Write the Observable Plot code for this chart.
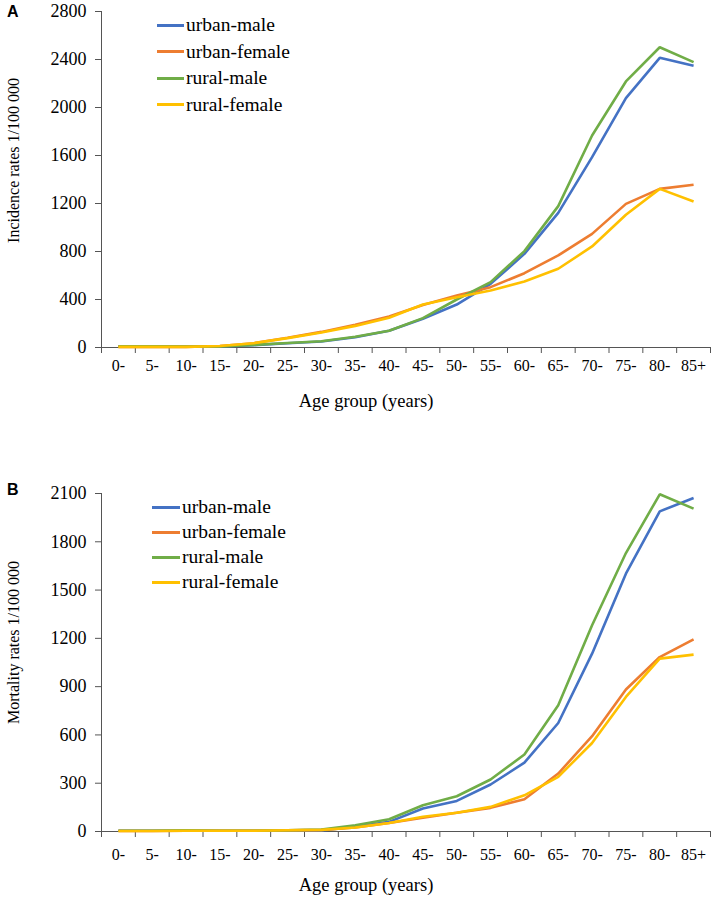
<!DOCTYPE html>
<html>
<head>
<meta charset="utf-8">
<script src="https://cdn.jsdelivr.net/npm/d3@7"></script>
<script src="https://cdn.jsdelivr.net/npm/@observablehq/plot@0.6"></script>
<style>
  html, body { margin: 0; padding: 0; background: #fff; }
  #wrap { position: relative; width: 714px; height: 898px; font-family: "Liberation Serif", "Times New Roman", serif; }
  .panel { position: absolute; left: 0; width: 714px; }
  .panel svg, .panel svg text { font-family: "Liberation Serif", "Times New Roman", serif !important; }
  .letter { position: absolute; font-family: "Liberation Sans", Arial, sans-serif; font-weight: bold; font-size: 16px; line-height: 16px; }
  .legrow { position: absolute; left: 0; display: flex; align-items: center; white-space: nowrap; font-size: 19.5px; line-height: 20px; }
  .sw { width: 27px; height: 3px; margin-right: 2px; }
</style>
</head>
<body>
<div id="wrap"></div>
<script>
const ageGroups = ["0-","5-","10-","15-","20-","25-","30-","35-","40-","45-","50-","55-","60-","65-","70-","75-","80-","85+"];
const seriesNames = ["urban-male","urban-female","rural-male","rural-female"];
const seriesColors = ["#4472C4","#ED7D31","#70AD47","#FFC000"];

// Panel A: incidence rates 1/100 000
const incUrbanMale   = [10,10,8,8,20,35,50,85,140,240,358,530,780,1122,1586,2078,2414,2347];
const incUrbanFemale = [5,5,5,12,36,81,130,190,258,355,433,503,619,767,947,1197,1322,1356];
const incRuralMale   = [10,10,8,8,22,38,52,90,140,245,400,545,803,1178,1767,2217,2502,2378];
const incRuralFemale = [5,5,5,12,36,78,125,180,248,358,419,475,550,656,842,1106,1322,1217];

// Panel B: mortality rates 1/100 000
const morUrbanMale   = [5,5,5,5,5,6,6,30,60,143,190,292,428,674,1105,1602,1989,2072];
const morUrbanFemale = [3,3,5,5,5,8,10,25,53,85,116,147,200,360,592,882,1084,1194];
const morRuralMale   = [5,5,8,5,5,8,12,39,76,163,219,323,478,784,1281,1730,2095,2006];
const morRuralFemale = [3,3,5,5,5,8,10,25,53,92,116,153,225,339,550,836,1074,1099];

const incTicks = [0,400,800,1200,1600,2000,2400,2800];
const morTicks = [0,300,600,900,1200,1500,1800,2100];

const axisColor = "#555";
const serif = "Liberation Serif";

function buildTable(seriesArrays) {
  const rows = [];
  seriesArrays.forEach((arr, s) => {
    arr.forEach((v, i) => rows.push({series: seriesNames[s], pos: i + 0.5, value: v}));
  });
  return rows;
}

function panel(cfg) {
  const table = buildTable(cfg.series);
  const yMax = cfg.ticks[cfg.ticks.length - 1];
  return Plot.plot({
    width: 714,
    height: cfg.height,
    marginLeft: 101,
    marginRight: 4,
    marginTop: cfg.marginTop,
    marginBottom: cfg.marginBottom,
    style: {fontFamily: serif, background: "white", overflow: "visible"},
    x: {domain: [0, ageGroups.length]},
    y: {domain: [0, yMax]},
    color: {domain: seriesNames, range: seriesColors},
    marks: [
      Plot.axisY({ticks: cfg.ticks, tickSize: 6, tickPadding: 9, tickFormat: d => String(d), fontSize: 18, fontFamily: serif, stroke: axisColor, fill: "black", label: null}),
      Plot.axisX({ticks: d3.range(0, ageGroups.length + 1), tickSize: 6, tickFormat: () => "", stroke: axisColor, label: null}),
      Plot.axisX({ticks: ageGroups.map((d, i) => i + 0.5), tickSize: 0, tickPadding: cfg.xPad, tickFormat: d => ageGroups[Math.floor(d)], fontSize: 16, fontFamily: serif, fill: "black", label: null}),
      Plot.ruleX([0], {y1: 0, y2: yMax, stroke: axisColor, strokeWidth: 1}),
      Plot.ruleY([0], {stroke: axisColor, strokeWidth: 1}),
      Plot.line(table, {x: "pos", y: "value", z: "series", stroke: "series", strokeWidth: 2.6, strokeLinejoin: "miter", strokeLinecap: "butt"}),
      Plot.text([cfg.yLabel], {frameAnchor: "left", textAnchor: "middle", lineAnchor: "middle", rotate: -90, dx: -88, dy: cfg.yLabelDy, fontSize: 16, fontFamily: serif, fill: "black"}),
      Plot.text(["Age group (years)"], {frameAnchor: "bottom", textAnchor: "middle", lineAnchor: "middle", dx: -40, dy: cfg.xLabelDy, fontSize: 18.5, fontFamily: serif, fill: "black"})
    ]
  });
}

const wrap = document.getElementById("wrap");

function addPanel(top, plot, letter, letterTop, legend) {
  const div = document.createElement("div");
  div.className = "panel";
  div.style.top = top + "px";
  div.appendChild(plot);
  wrap.appendChild(div);
  const L = document.createElement("div");
  L.className = "letter";
  L.style.left = "7px";
  L.style.top = letterTop + "px";
  L.textContent = letter;
  wrap.appendChild(L);
  seriesNames.forEach((name, i) => {
    const row = document.createElement("div");
    row.className = "legrow";
    row.style.left = legend.left + "px";
    row.style.top = (legend.top + i * legend.step - 10) + "px";
    const sw = document.createElement("div");
    sw.className = "sw";
    sw.style.background = seriesColors[i];
    sw.style.width = legend.sw + "px";
    const t = document.createElement("span");
    t.textContent = name;
    row.appendChild(sw);
    row.appendChild(t);
    wrap.appendChild(row);
  });
}

const plotA = panel({
  series: [incUrbanMale, incUrbanFemale, incRuralMale, incRuralFemale],
  ticks: incTicks, height: 449, marginTop: 11, marginBottom: 102, xPad: 12,
  yLabel: "Incidence rates 1/100 000", yLabelDy: -19, xLabelDy: 54
});
const plotB = panel({
  series: [morUrbanMale, morUrbanFemale, morRuralMale, morRuralFemale],
  ticks: morTicks, height: 449, marginTop: 44, marginBottom: 67, xPad: 17,
  yLabel: "Mortality rates 1/100 000", yLabelDy: -20, xLabelDy: 54
});

addPanel(0, plotA, "A", 4, {left: 157, top: 25, step: 26.5, sw: 27});
addPanel(449, plotB, "B", 482, {left: 152, top: 507, step: 25, sw: 28});
</script>
</body>
</html>
